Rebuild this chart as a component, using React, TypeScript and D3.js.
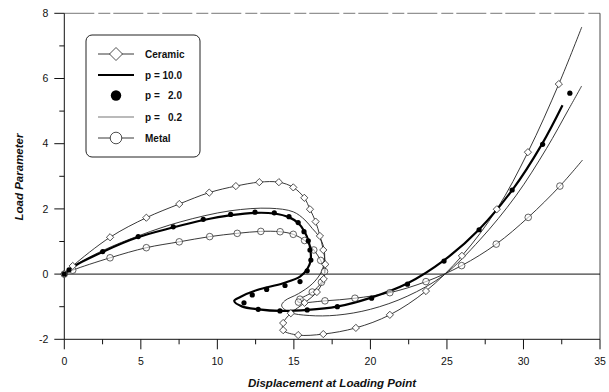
import React from 'react';
import * as d3 from 'd3';

// load parameter vs displacement for the FGM arch
const ceramic: [number, number][] = [
    [0, 0], [0.55, 0.25], [2.99, 1.13], [5.36, 1.73], [7.51, 2.15], [9.47, 2.5], [11.21, 2.7],
    [12.74, 2.82], [14.02, 2.82], [14.96, 2.66], [15.68, 2.34], [16.05, 1.99], [16.42, 1.61],
    [16.7, 1.17], [16.92, 0.74], [17.05, 0.3], [16.95, -0.15], [16.5, -0.55], [15.7, -0.88],
    [14.8, -1.2], [14.3, -1.5], [14.3, -1.72], [15.28, -1.87], [16.92, -1.84], [19.05, -1.65],
    [21.27, -1.25], [23.63, -0.52], [25.98, 0.56], [28.26, 1.99], [30.29, 3.74], [32.31, 5.83],
    [33.81, 7.58],
];

const p10: [number, number][] = [
    [0, 0], [0.5, 0.2], [2.5, 0.68], [4.8, 1.13], [7.1, 1.43], [9.1, 1.66], [10.9, 1.81],
    [12.5, 1.88], [13.7, 1.86], [14.7, 1.74], [15.3, 1.56], [15.7, 1.3], [15.95, 1.02],
    [16.08, 0.74], [16.1, 0.43], [15.9, 0.18], [15.4, -0.08], [14.3, -0.28], [12.6, -0.49],
    [11.5, -0.7], [11.1, -0.82], [11.6, -0.99], [12.7, -1.08], [14.1, -1.13], [15.9, -1.1],
    [17.8, -1.0], [20.0, -0.73], [22.4, -0.29], [24.8, 0.42], [27.1, 1.37], [29.3, 2.6],
    [31.2, 3.98], [32.55, 5.18],
];

const p2: [number, number][] = [
    [0, 0], [0.31, 0.13], [2.51, 0.69], [4.83, 1.15], [7.12, 1.45], [9.08, 1.68], [10.87, 1.83],
    [12.46, 1.9], [13.72, 1.88], [14.68, 1.76], [15.28, 1.58], [15.66, 1.3], [15.94, 1.02],
    [16.05, 0.74], [16.11, 0.43], [15.87, 0.1], [15.4, -0.23], [14.42, -0.35], [13.22, -0.47],
    [12.28, -0.64], [11.74, -0.88], [12.67, -1.08], [14.09, -1.13], [15.87, -1.1], [17.84, -1.0],
    [20.08, -0.74], [22.42, -0.31], [24.81, 0.4], [27.1, 1.36], [29.26, 2.58], [31.25, 3.98],
    [33.03, 5.55],
];

const p02: [number, number][] = [
    [0, 0], [0.5, 0.21], [2.5, 0.72], [5.0, 1.2], [7.57, 1.6], [10.82, 1.94], [13.44, 2.02],
    [14.96, 1.91], [15.72, 1.66], [16.2, 1.4], [16.65, 1.15], [16.95, 0.82], [17.0, 0.43],
    [16.8, 0.07], [16.2, -0.3], [15.3, -0.6], [14.4, -0.82], [14.2, -0.97], [14.7, -1.17],
    [16.0, -1.27], [17.8, -1.26], [20.0, -1.08], [22.4, -0.68], [24.8, -0.03], [27.15, 1.05],
    [29.5, 2.4], [31.5, 3.85], [32.92, 5.03], [33.8, 5.77],
];

const metal: [number, number][] = [
    [0, 0], [0.55, 0.12], [2.99, 0.5], [5.36, 0.81], [7.51, 0.99], [9.5, 1.15], [11.3, 1.25],
    [12.84, 1.31], [14.1, 1.3], [14.96, 1.22], [15.7, 1.03], [16.3, 0.74], [16.75, 0.42],
    [17.0, 0.08], [16.8, -0.25], [16.2, -0.55], [15.4, -0.77], [15.3, -0.86], [17.03, -0.82],
    [18.99, -0.74], [21.27, -0.57], [23.63, -0.23], [25.96, 0.26], [28.22, 0.92], [30.31, 1.74],
    [32.38, 2.7], [33.86, 3.5],
];

const xTicks = [0, 5, 10, 15, 20, 25, 30, 35];
const xMinor = [2.5, 7.5, 12.5, 17.5, 22.5, 27.5, 32.5];
const yTicks = [-2, 0, 2, 4, 6, 8];
const yMinor = [-1, 1, 3, 5, 7];
const legendLabels = ['Ceramic', 'p = 10.0', 'p =   2.0', 'p =   0.2', 'Metal'];

const font = '"Liberation Sans", Arial, sans-serif';

function Diamond({ cx, cy, r }: { cx: number; cy: number; r: number }) {
    return (
        <path
            d={`M${cx},${cy - r}L${cx + r},${cy}L${cx},${cy + r}L${cx - r},${cy}Z`}
            fill="white"
            stroke="#222"
            strokeWidth={0.8}
        />
    );
}

export default function App() {
    const x = d3.scaleLinear().domain([0, 35]).range([64.3, 600]);
    const y = d3.scaleLinear().domain([-2, 8]).range([339.3, 13.3]);
    const line = d3
        .line<[number, number]>()
        .x((d) => x(d[0]))
        .y((d) => y(d[1]))
        .curve(d3.curveCatmullRom.alpha(0.5));

    const [x0, x1] = x.range();
    const [yb, yt] = y.range();

    // legend rows
    const lgX = 86, lgY = 35, lgW = 114, lgH = 122;
    const rowY = [54, 75, 95.5, 117, 138];
    const lx0 = 98, lx1 = 134, lmid = 116, ltx = 145;

    return (
        <div style={{ position: 'absolute', left: 0, top: 0 }}>
            <svg width={609} height={392} style={{ display: 'block', background: 'white' }}>
                {/* frame */}
                <line x1={x0} x2={x1} y1={yt} y2={yt} stroke="#555" strokeWidth={0.8} strokeDasharray="30 4 12 3" />
                <line x1={x1} x2={x1} y1={yt} y2={yb} stroke="#333" strokeWidth={0.9} />
                <line x1={x0} x2={x1} y1={yb} y2={yb} stroke="#111" strokeWidth={1} />
                <line x1={x0} x2={x0} y1={yt} y2={yb} stroke="#111" strokeWidth={1} />
                <line x1={x0} x2={x1} y1={y(0)} y2={y(0)} stroke="#111" strokeWidth={1} />

                {/* y axis */}
                {yTicks.map((t) => (
                    <g key={'yt' + t}>
                        <line x1={x0 - 10} x2={x0} y1={y(t)} y2={y(t)} stroke="#111" strokeWidth={1} />
                        <text x={x0 - 16} y={y(t)} dy="0.35em" textAnchor="end" fontFamily={font} fontSize={10.5} fill="#111">
                            {t}
                        </text>
                    </g>
                ))}
                {yMinor.map((t) => (
                    <line key={'ym' + t} x1={x0 - 5} x2={x0} y1={y(t)} y2={y(t)} stroke="#111" strokeWidth={1} />
                ))}

                {/* x axis */}
                {xTicks.map((t) => (
                    <g key={'xt' + t}>
                        <line x1={x(t)} x2={x(t)} y1={yb} y2={yb + 10} stroke="#111" strokeWidth={1} />
                        <text x={x(t)} y={yb + 26} textAnchor="middle" fontFamily={font} fontSize={10.5} fill="#111">
                            {t}
                        </text>
                    </g>
                ))}
                {xMinor.map((t) => (
                    <line key={'xm' + t} x1={x(t)} x2={x(t)} y1={yb} y2={yb + 5} stroke="#111" strokeWidth={1} />
                ))}

                {/* axis titles */}
                <text x={332} y={387} textAnchor="middle" fontFamily={font} fontSize={11.5} fontWeight="bold" fontStyle="italic" fill="#111">
                    Displacement at Loading Point
                </text>
                <text
                    transform="translate(23,177) rotate(-90)"
                    textAnchor="middle"
                    fontFamily={font}
                    fontSize={11.5}
                    fontWeight="bold"
                    fontStyle="italic"
                    fill="#111"
                >
                    Load Parameter
                </text>

                {/* curves */}
                <path d={line(metal) || ''} fill="none" stroke="#222" strokeWidth={0.9} />
                <path d={line(p02) || ''} fill="none" stroke="#222" strokeWidth={0.9} />
                <path d={line(ceramic) || ''} fill="none" stroke="#222" strokeWidth={0.9} />
                <path d={line(p10) || ''} fill="none" stroke="#000" strokeWidth={2.2} />

                {metal.slice(0, -1).map((d, i) => (
                    <circle key={'m' + i} cx={x(d[0])} cy={y(d[1])} r={3.3} fill="white" fillOpacity={0.6} stroke="#222" strokeWidth={0.7} />
                ))}
                {ceramic.slice(0, -1).map((d, i) => (
                    <Diamond key={'c' + i} cx={x(d[0])} cy={y(d[1])} r={3.6} />
                ))}
                {p2.map((d, i) => (
                    <circle key={'p' + i} cx={x(d[0])} cy={y(d[1])} r={2.6} fill="#000" />
                ))}

                {/* legend */}
                <rect x={lgX} y={lgY} width={lgW} height={lgH} rx={6} fill="white" stroke="#222" strokeWidth={1} />
                {legendLabels.map((lab, i) => (
                    <text
                        key={lab}
                        x={ltx}
                        y={rowY[i]}
                        dy="0.35em"
                        fontFamily={font}
                        fontSize={10}
                        fontWeight="bold"
                        fill="#111"
                        style={{ whiteSpace: 'pre' }}
                    >
                        {lab}
                    </text>
                ))}
                <line x1={lx0} x2={lx1} y1={rowY[0]} y2={rowY[0]} stroke="#222" strokeWidth={0.9} />
                <Diamond cx={lmid} cy={rowY[0]} r={6.5} />
                <line x1={lx0} x2={lx1} y1={rowY[1]} y2={rowY[1]} stroke="#000" strokeWidth={2.2} />
                <circle cx={lmid} cy={rowY[2]} r={5.2} fill="#000" />
                <line x1={lx0} x2={lx1} y1={rowY[3]} y2={rowY[3]} stroke="#777" strokeWidth={1.1} />
                <line x1={lx0} x2={lx1} y1={rowY[4]} y2={rowY[4]} stroke="#222" strokeWidth={0.9} />
                <circle cx={lmid} cy={rowY[4]} r={5.8} fill="white" stroke="#222" strokeWidth={0.8} />
            </svg>
        </div>
    );
}
